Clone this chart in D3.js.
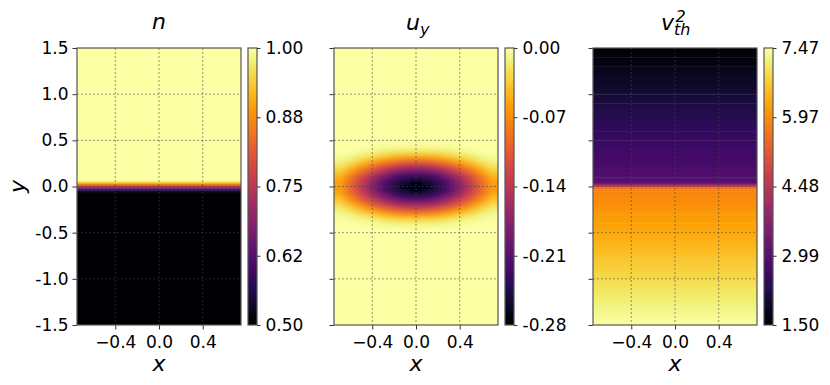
<!DOCTYPE html>
<meta charset="utf-8">
<style>
body { margin: 0; background: #fff; }
svg { font-family: "DejaVu Sans", sans-serif; }
.tick text { font-size: 17px; font-family: "DejaVu Sans", sans-serif; fill: #000; }
.tick line { stroke: #333; }
.grid line { stroke: #444; stroke-opacity: .7; stroke-width: .8; stroke-dasharray: 2,2; }
.frame { fill: none; stroke: #555; stroke-width: 1.2; }
.lbl { font-style: italic; fill: #000; }
</style>
<body>
<script src="https://cdn.jsdelivr.net/npm/d3@7"></script>
<script>
// shared axis ticks
var xTicks = [-0.4, 0, 0.4],
    xTickLabels = ["\u22120.4", "0.0", "0.4"];
var yTicks = [1.5, 1.0, 0.5, 0, -0.5, -1.0, -1.5],
    yTickLabels = ["1.5", "1.0", "0.5", "0.0", "-0.5", "-1.0", "-1.5"];
var gridY = [1.0, 0.5, 0, -0.5, -1.0];

// panel 1: n depends on y only
var nY   = [1.5, 0.08, 0.06, 0.04, 0.02, 0.0, -0.02, -0.04, -0.06, -0.08, -1.5];
var nVal = [1.0, 1.0, 0.985, 0.93, 0.84, 0.75, 0.66, 0.57, 0.52, 0.5, 0.5];
var nTicks = [0.5, 0.625, 0.75, 0.875, 1.0],
    nTickLabels = ["0.50", "0.62", "0.75", "0.88", "1.00"];

// panel 2: u_y on a grid around the origin, 0 elsewhere
var uyX = [-0.7, -0.6, -0.5, -0.4, -0.3, -0.2, -0.1, 0, 0.1, 0.2, 0.3, 0.4, 0.5, 0.6, 0.7];
var uyY = [0.45, 0.4, 0.35, 0.3, 0.25, 0.2, 0.15, 0.1, 0.05, 0, -0.05, -0.1, -0.15, -0.2, -0.25, -0.3, -0.35, -0.4, -0.45];
var uyOutside = 0;
var uyGrid = [
  [0,0,0,-0.001,-0.002,-0.002,-0.003,-0.003,-0.003,-0.002,-0.002,-0.001,0,0,0],
  [0,-0.001,-0.002,-0.005,-0.009,-0.012,-0.013,-0.014,-0.013,-0.012,-0.009,-0.005,-0.002,-0.001,0],
  [-0.002,-0.004,-0.010,-0.016,-0.025,-0.031,-0.035,-0.036,-0.035,-0.031,-0.025,-0.016,-0.010,-0.004,-0.002],
  [-0.006,-0.013,-0.025,-0.036,-0.052,-0.065,-0.073,-0.076,-0.073,-0.065,-0.052,-0.036,-0.025,-0.013,-0.006],
  [-0.013,-0.027,-0.046,-0.068,-0.088,-0.104,-0.114,-0.118,-0.114,-0.104,-0.088,-0.068,-0.046,-0.027,-0.013],
  [-0.025,-0.046,-0.073,-0.100,-0.125,-0.145,-0.158,-0.162,-0.158,-0.145,-0.125,-0.100,-0.073,-0.046,-0.025],
  [-0.036,-0.067,-0.099,-0.130,-0.160,-0.183,-0.199,-0.204,-0.199,-0.183,-0.160,-0.130,-0.099,-0.067,-0.036],
  [-0.049,-0.084,-0.119,-0.156,-0.188,-0.216,-0.236,-0.244,-0.236,-0.216,-0.188,-0.156,-0.119,-0.084,-0.049],
  [-0.058,-0.095,-0.133,-0.172,-0.208,-0.241,-0.260,-0.269,-0.260,-0.241,-0.208,-0.172,-0.133,-0.095,-0.058],
  [-0.061,-0.099,-0.138,-0.178,-0.215,-0.248,-0.270,-0.280,-0.270,-0.248,-0.215,-0.178,-0.138,-0.099,-0.061],
  [-0.058,-0.095,-0.133,-0.172,-0.208,-0.241,-0.260,-0.269,-0.260,-0.241,-0.208,-0.172,-0.133,-0.095,-0.058],
  [-0.049,-0.084,-0.119,-0.156,-0.188,-0.216,-0.236,-0.244,-0.236,-0.216,-0.188,-0.156,-0.119,-0.084,-0.049],
  [-0.036,-0.067,-0.099,-0.130,-0.160,-0.183,-0.199,-0.204,-0.199,-0.183,-0.160,-0.130,-0.099,-0.067,-0.036],
  [-0.025,-0.046,-0.073,-0.100,-0.125,-0.145,-0.158,-0.162,-0.158,-0.145,-0.125,-0.100,-0.073,-0.046,-0.025],
  [-0.013,-0.027,-0.046,-0.068,-0.088,-0.104,-0.114,-0.118,-0.114,-0.104,-0.088,-0.068,-0.046,-0.027,-0.013],
  [-0.006,-0.013,-0.025,-0.036,-0.052,-0.065,-0.073,-0.076,-0.073,-0.065,-0.052,-0.036,-0.025,-0.013,-0.006],
  [-0.002,-0.004,-0.010,-0.016,-0.025,-0.031,-0.035,-0.036,-0.035,-0.031,-0.025,-0.016,-0.010,-0.004,-0.002],
  [0,-0.001,-0.002,-0.005,-0.009,-0.012,-0.013,-0.014,-0.013,-0.012,-0.009,-0.005,-0.002,-0.001,0],
  [0,0,0,-0.001,-0.002,-0.002,-0.003,-0.003,-0.003,-0.002,-0.002,-0.001,0,0,0]
];
var uyTicks = [-0.28, -0.21, -0.14, -0.07, 0],
    uyTickLabels = ["-0.28", "-0.21", "-0.14", "-0.07", "0.00"];

// panel 3: v_th^2 depends on y only
var vthY   = [1.5, 1.4, 1.3, 1.2, 1.1, 1.0, 0.9, 0.8, 0.7, 0.6, 0.5, 0.4, 0.3, 0.2, 0.1, 0.05, 0.03, 0.01, -0.01, -0.03,
              -0.05, -0.1, -0.2, -0.3, -0.4, -0.5, -0.6, -0.7, -0.8, -0.9, -1.0, -1.1, -1.2, -1.3, -1.4, -1.5];
var vthVal = [1.5, 1.62, 1.74, 1.85, 1.96, 2.07, 2.17, 2.27, 2.37, 2.46, 2.55, 2.64, 2.73, 2.82, 2.90, 2.95, 3.5, 4.5, 5.4, 5.8,
              5.85, 5.92, 6.02, 6.12, 6.22, 6.32, 6.44, 6.56, 6.68, 6.80, 6.92, 7.03, 7.13, 7.24, 7.35, 7.47];
var vthTicks = [1.5, 2.9925, 4.485, 5.9775, 7.47],
    vthTickLabels = ["1.50", "2.99", "4.48", "5.97", "7.47"];

// layout
var marginTop = 48, pw = 164, ph = 277;
var lefts = [77, 334, 593];

var x = d3.scaleLinear().domain([-0.75, 0.75]).range([0, pw]);
var y = d3.scaleLinear().domain([-1.5, 1.5]).range([ph, 0]);

var svg = d3.select("body").append("svg")
    .attr("width", 830)
    .attr("height", 385);

var defs = svg.append("defs");
var grad = defs.append("linearGradient").attr("id", "inferno")
    .attr("x1", 0).attr("y1", 1).attr("x2", 0).attr("y2", 0);
for (var s = 0; s <= 40; s++) {
  grad.append("stop").attr("offset", s / 40).attr("stop-color", d3.interpolateInferno(s / 40));
}
defs.append("filter").attr("id", "blur2")
  .append("feGaussianBlur").attr("stdDeviation", "4 2");

function makePanel(i) {
  var g = svg.append("g").attr("transform", "translate(" + lefts[i] + "," + marginTop + ")");
  defs.append("clipPath").attr("id", "clip" + i)
    .append("rect").attr("width", pw).attr("height", ph);
  var img = g.append("g").attr("clip-path", "url(#clip" + i + ")").append("g");
  return {g: g, img: img};
}

// profile in y: one band between each pair of samples, shaded sample to sample
function bands(img, id, ys, vals, color) {
  var pairs = d3.pairs(d3.zip(ys, vals));
  var gr = defs.selectAll("linearGradient." + id)
      .data(pairs)
    .enter().append("linearGradient")
      .attr("class", id)
      .attr("id", function(d, k) { return id + k; })
      .attr("x1", 0).attr("y1", 0).attr("x2", 0).attr("y2", 1);
  gr.append("stop").attr("offset", 0).attr("stop-color", function(d) { return color(d[0][1]); });
  gr.append("stop").attr("offset", 1).attr("stop-color", function(d) { return color(d[1][1]); });
  img.selectAll("rect.band")
      .data(pairs)
    .enter().append("rect")
      .attr("class", "band")
      .attr("x", 0)
      .attr("width", pw)
      .attr("y", function(d) { return y(d[0][0]); })
      .attr("height", function(d) { return y(d[1][0]) - y(d[0][0]) + 0.4; })
      .attr("fill", function(d, k) { return "url(#" + id + k + ")"; });
}

function decorate(p, i, title, cScale, cTicks, cLabels) {
  var g = p.g;
  // grid
  var grid = g.append("g").attr("class", "grid");
  grid.selectAll("line.v").data(xTicks).enter().append("line")
      .attr("x1", function(d) { return x(d); }).attr("x2", function(d) { return x(d); })
      .attr("y1", 0).attr("y2", ph);
  grid.selectAll("line.h").data(gridY).enter().append("line")
      .attr("y1", function(d) { return y(d); }).attr("y2", function(d) { return y(d); })
      .attr("x1", 0).attr("x2", pw);

  // axes
  var ax = g.append("g")
      .attr("transform", "translate(0," + ph + ")")
      .call(d3.axisBottom(x).tickValues(xTicks)
        .tickFormat(function(d, k) { return xTickLabels[k]; })
        .tickSize(4.5).tickPadding(6.5));
  ax.select(".domain").remove();
  var ay = g.append("g")
      .call(d3.axisLeft(y).tickValues(yTicks)
        .tickFormat(function(d, k) { return i == 0 ? yTickLabels[k] : ""; })
        .tickSize(4.5).tickPadding(4));
  ay.select(".domain").remove();

  g.append("rect").attr("class", "frame").attr("width", pw).attr("height", ph);

  // colorbar
  var cx = pw + 7, cw = 9;
  var cy = cScale.copy().range([ph, 0]);
  g.append("rect").attr("x", cx).attr("width", cw).attr("height", ph)
      .attr("fill", "url(#inferno)");
  g.append("rect").attr("class", "frame").attr("x", cx).attr("width", cw).attr("height", ph);
  var ac = g.append("g")
      .attr("transform", "translate(" + (cx + cw) + ",0)")
      .call(d3.axisRight(cy).tickValues(cTicks)
        .tickFormat(function(d, k) { return cLabels[k]; })
        .tickSize(3.5).tickPadding(5));
  ac.select(".domain").remove();

  // x label
  g.append("text").attr("class", "lbl")
      .attr("x", pw / 2).attr("y", 371 - marginTop)
      .attr("text-anchor", "middle")
      .style("font-size", "22px")
      .text("x");

  // title
  title(g);
}

var cN = d3.scaleSequential(d3.interpolateInferno).domain([0.5, 1.0]);
var cU = d3.scaleSequential(d3.interpolateInferno).domain([-0.28, 0]);
var cV = d3.scaleSequential(d3.interpolateInferno).domain([1.5, 7.47]);

// panel 1
var p1 = makePanel(0);
bands(p1.img, "gn", nY, nVal, cN);
decorate(p1, 0, function(g) {
  g.append("text").attr("class", "lbl")
      .attr("x", pw / 2).attr("y", 29 - marginTop)
      .attr("text-anchor", "middle")
      .style("font-size", "22px")
      .text("n");
}, cN, nTicks, nTickLabels);

// y label
svg.append("text").attr("class", "lbl")
    .attr("transform", "translate(25,186.5) rotate(-90)")
    .attr("text-anchor", "middle")
    .style("font-size", "22px")
    .text("y");

// panel 2
var p2 = makePanel(1);
var img2 = p2.img.attr("filter", "url(#blur2)");
img2.append("rect").attr("x", -20).attr("y", -20)
    .attr("width", pw + 40).attr("height", ph + 40)
    .attr("fill", cU(uyOutside));
var cells = [];
uyGrid.forEach(function(row, r) {
  row.forEach(function(v, c) { cells.push({r: r, c: c, v: v}); });
});
var cwid = x(0.1) - x(0), chgt = y(0) - y(0.05);
img2.selectAll("rect.cell")
    .data(cells)
  .enter().append("rect")
    .attr("class", "cell")
    .attr("x", function(d) { return x(uyX[d.c]) - cwid / 2 - (d.c == 0 ? 12 : 0); })
    .attr("y", function(d) { return y(uyY[d.r]) - chgt / 2; })
    .attr("width", function(d) { return cwid + 0.6 + (d.c == 0 || d.c == uyX.length - 1 ? 12 : 0); })
    .attr("height", chgt + 0.6)
    .attr("fill", function(d) { return cU(d.v); });
decorate(p2, 1, function(g) {
  var t = g.append("text").attr("class", "lbl")
      .attr("x", pw / 2 - 10).attr("y", 30 - marginTop)
      .style("font-size", "22px");
  t.append("tspan").text("u");
  t.append("tspan").attr("dy", 5).style("font-size", "16px").text("y");
}, cU, uyTicks, uyTickLabels);

// panel 3
var p3 = makePanel(2);
bands(p3.img, "gv", vthY, vthVal, cV);
decorate(p3, 2, function(g) {
  var t = g.append("text").attr("class", "lbl")
      .attr("x", pw / 2 - 14).attr("y", 29.5 - marginTop)
      .style("font-size", "22px");
  t.append("tspan").text("v");
  t.append("tspan").attr("dy", 5.5).style("font-size", "16px").text("th");
  t.append("tspan").attr("dx", -15).attr("dy", -13.5).style("font-size", "16px").text("2");
}, cV, vthTicks, vthTickLabels);
</script>
</body>
